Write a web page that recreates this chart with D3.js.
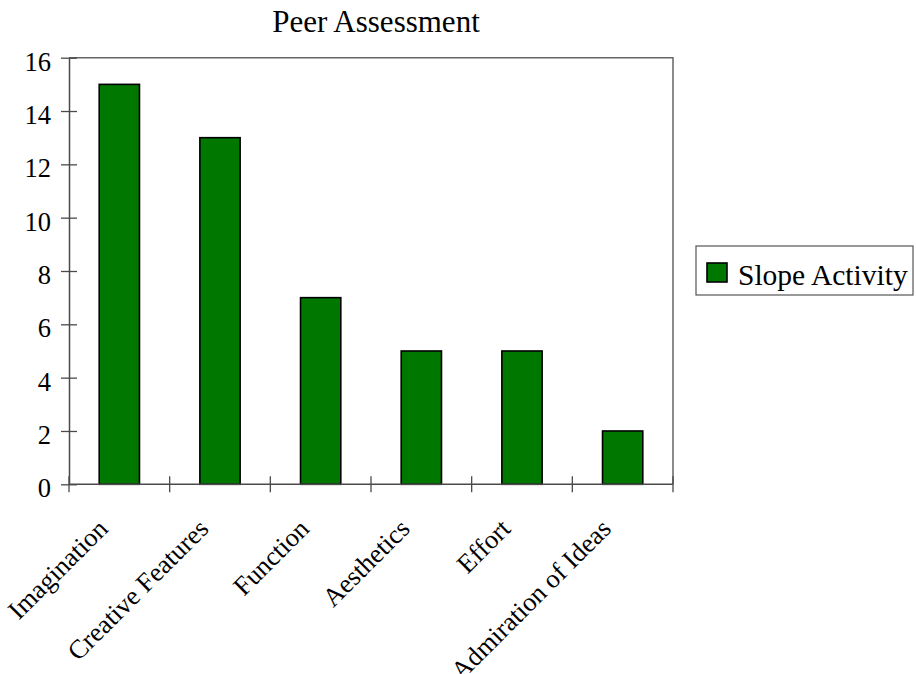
<!DOCTYPE html>
<html>
<head>
<meta charset="utf-8">
<script src="https://cdn.jsdelivr.net/npm/d3@7"></script>
<style>
  html, body { margin: 0; padding: 0; background: #fff; }
  text { font-family: "Liberation Serif", "Times New Roman", serif; fill: #000; }
</style>
</head>
<body>
<svg id="chart" width="916" height="674"></svg>
<script>
const categories = ["Imagination", "Creative Features", "Function", "Aesthetics", "Effort", "Admiration of Ideas"];
const seriesName = "Slope Activity";
const values = [15, 13, 7, 5, 5, 2];
const yTicks = [0, 2, 4, 6, 8, 10, 12, 14, 16];
const title = "Peer Assessment";

const svg = d3.select("#chart");
const margin = { left: 69, right: 673, top: 57.7, bottom: 484.3 };
const barColor = "#007800";
const frameColor = "#4a4a4a";

const x = d3.scaleBand().domain(categories).range([margin.left, margin.right]).paddingInner(0).paddingOuter(0);
const y = d3.scaleLinear().domain([0, 16]).range([margin.bottom, margin.top]);

// frame (top & right)
svg.append("path")
  .attr("d", `M${margin.left},${margin.top}H${margin.right}V${margin.bottom}`)
  .attr("fill", "none").attr("stroke", "#666").attr("stroke-width", 1.5);

// bars
const bw = x.bandwidth() * 0.4;
svg.selectAll("rect.bar").data(values).enter().append("rect")
  .attr("class", "bar")
  .attr("x", (d, i) => x(categories[i]) + x.bandwidth() / 2 - bw / 2)
  .attr("y", d => y(d))
  .attr("width", bw)
  .attr("height", d => y(0) - y(d))
  .attr("fill", barColor)
  .attr("stroke", "#000").attr("stroke-width", 1.6);

// y axis
const yAxis = d3.axisLeft(y).tickValues(yTicks).tickSizeInner(0).tickSizeOuter(0).tickFormat(d3.format("d"));
const gy = svg.append("g").attr("transform", `translate(${margin.left},0)`).call(yAxis);
gy.select(".domain").attr("stroke", frameColor).attr("stroke-width", 1.5);
gy.selectAll(".tick line").attr("x1", -8).attr("x2", 8).attr("stroke", frameColor).attr("stroke-width", 1.3);
gy.selectAll(".tick text")
  .attr("x", -18).attr("dy", "12.5").attr("text-anchor", "end")
  .style("font-family", '"Liberation Serif", "Times New Roman", serif')
  .style("font-size", "26.5px").attr("fill", "#000");

// x axis
const xEdges = categories.map(c => x(c)).concat([margin.right]);
const gx = svg.append("g");
gx.append("line").attr("x1", margin.left).attr("x2", margin.right)
  .attr("y1", y(0)).attr("y2", y(0)).attr("stroke", frameColor).attr("stroke-width", 1.5);
gx.selectAll("line.xt").data(xEdges).enter().append("line").attr("class", "xt")
  .attr("x1", d => d).attr("x2", d => d)
  .attr("y1", y(0) - 8).attr("y2", y(0) + 8)
  .attr("stroke", frameColor).attr("stroke-width", 1.3);
gx.selectAll("text.xl").data(categories).enter().append("text").attr("class", "xl")
  .attr("transform", d => `translate(${x(d) + x.bandwidth() / 2 - 10},${y(0) + 46}) rotate(-45)`)
  .attr("text-anchor", "end")
  .style("font-size", "26.5px")
  .text(d => d);

// title
svg.append("text").attr("x", 376).attr("y", 32).attr("text-anchor", "middle")
  .style("font-size", "31px").text(title);

// legend
const lg = svg.append("g");
lg.append("rect").attr("x", 696).attr("y", 246).attr("width", 217).attr("height", 49)
  .attr("fill", "#fff").attr("stroke", "#555").attr("stroke-width", 1.2);
lg.append("rect").attr("x", 707).attr("y", 263).attr("width", 20).attr("height", 19)
  .attr("fill", barColor).attr("stroke", "#000").attr("stroke-width", 1.6);
lg.append("text").attr("x", 738).attr("y", 285).style("font-size", "29.5px").text(seriesName);
</script>
</body>
</html>
